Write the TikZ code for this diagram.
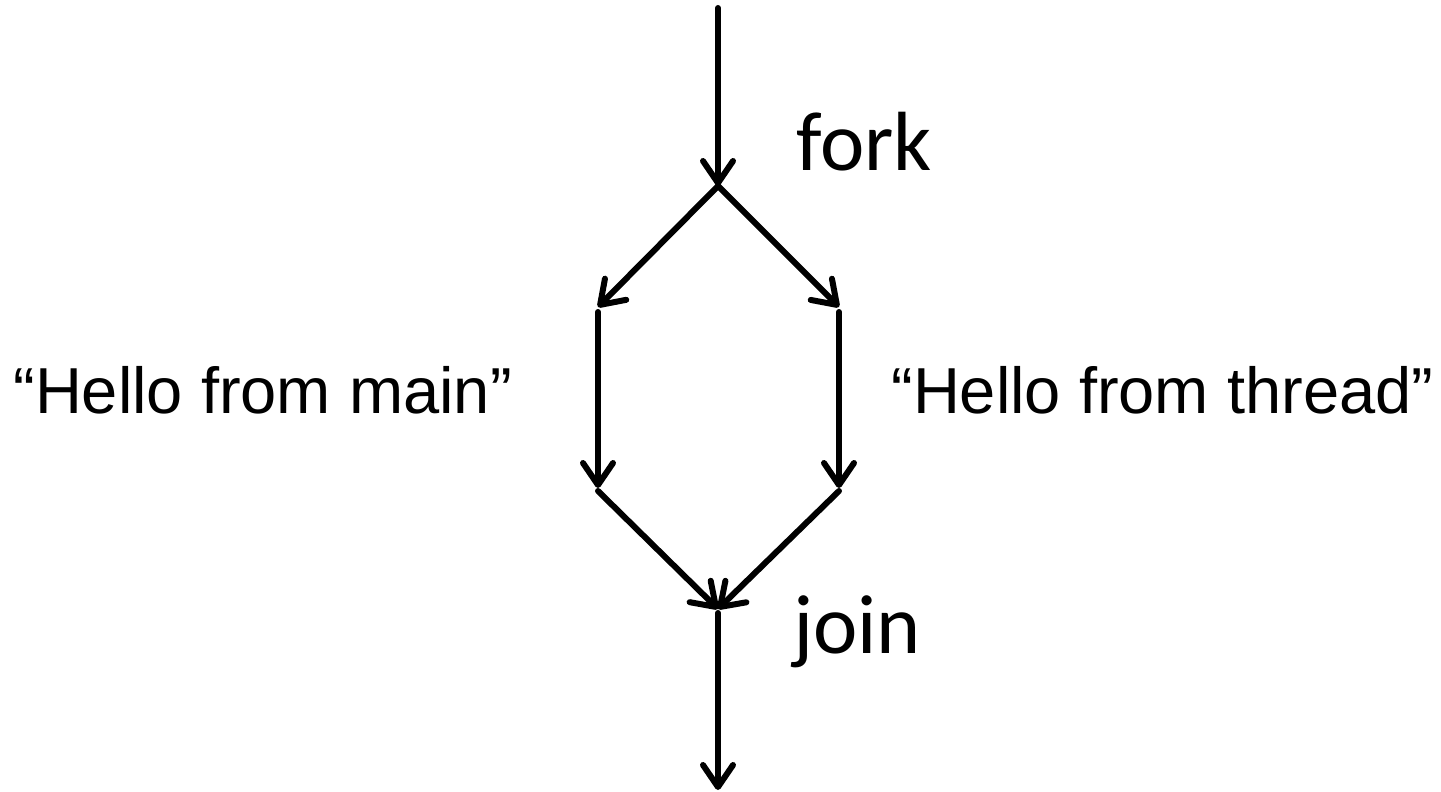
\documentclass[tikz,border=0pt]{standalone}
\usepackage{fontspec}
\setmainfont{Liberation Sans}
\newfontfamily\calfont{Carlito}
\usetikzlibrary{arrows.meta}
\begin{document}
\begin{tikzpicture}[x=0.5pt,y=-0.5pt,
  flow/.style={line width=3pt,line cap=round,
    -{Straight Barb[length=11pt,width=15pt,line cap=round,line join=round]}},
  lbl/.style={inner sep=0pt,font=\fontsize{32.5pt}{40pt}\selectfont},
  evt/.style={inner sep=0pt,font=\calfont\fontsize{42pt}{50pt}\selectfont}]
\useasboundingbox (0,0) rectangle (1441,792);
\coordinate (start) at (718,8);
\coordinate (fork) at (718,186);
\coordinate (l1) at (598,307);
\coordinate (r1) at (839,307);
\coordinate (l2) at (598,312);
\coordinate (r2) at (839,312);
\coordinate (l3) at (598,488);
\coordinate (r3) at (839,488);
\coordinate (l4) at (598,491);
\coordinate (r4) at (839,491);
\coordinate (join) at (718,609);
\coordinate (j2) at (718,613);
\coordinate (end) at (718,790);
\draw[flow] (start) -- (fork);
\draw[flow] (fork) -- (l1);
\draw[flow] (fork) -- (r1);
\draw[flow] (l2) -- (l3);
\draw[flow] (r2) -- (r3);
\draw[flow] (l4) -- (join);
\draw[flow] (r4) -- (join);
\draw[flow] (j2) -- (end);
\node[evt,anchor=base west] (forklbl) at (796,170) {fork};
\node[evt,anchor=base west] (joinlbl) at (793,653) {join};
\node[lbl,anchor=base west] (mainlbl) at (13,413) {“Hello from main”};
\node[lbl,anchor=base west] (threadlbl) at (891,413) {“Hello from thread”};
\end{tikzpicture}
\end{document}
